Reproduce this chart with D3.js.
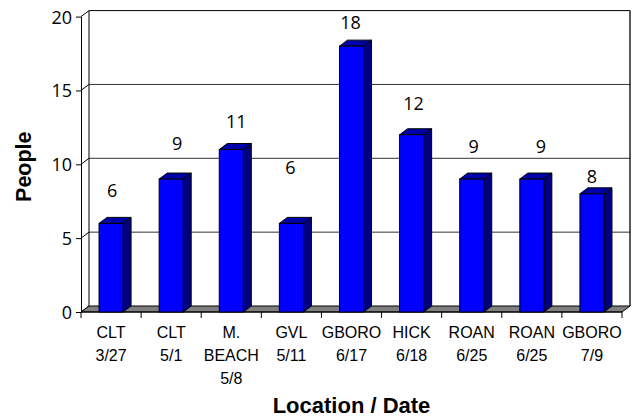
<!DOCTYPE html>
<html>
<head>
<meta charset="utf-8">
<script src="https://cdn.jsdelivr.net/npm/d3@7"></script>
<style>
  html, body { margin: 0; padding: 0; background: #fff; }
  svg { display: block; }
</style>
</head>
<body>
<svg id="chart" width="634" height="420"></svg>
<script>
// Attendance per event
const locations = ["CLT", "CLT", "M. BEACH", "GVL", "GBORO", "HICK", "ROAN", "ROAN", "GBORO"];
const dates = ["3/27", "5/1", "5/8", "5/11", "6/17", "6/18", "6/25", "6/25", "7/9"];
const people = [6, 9, 11, 6, 18, 12, 9, 9, 8];
const yTicks = [0, 5, 10, 15, 20];

// Hand-placed value labels: horizontal shift and lift above each bar top (px)
const labelShift = [1, 6, 5, -1, -1, 2, 2, 9, 0];
const labelLift = [26, 29, 21.5, 49, 17.5, 25, 26, 26, 10.5];

const svg = d3.select("#chart");
const DX = 8, DY = -6;           // depth of the 3-D wall / floor
const left = 81, right = 622, base = 312;

const x = d3.scaleBand().domain(d3.range(people.length)).range([left, right]).padding(0);
const y = d3.scaleLinear().domain([0, 20]).range([base, 16.6]);

const bw = x.bandwidth();
const numFont = "'Open Sans', 'Noto Sans', sans-serif";
const catFont = "'Liberation Sans', Arial, sans-serif";

// Back wall
const wall = svg.append("g");
wall.append("rect")
  .attr("x", left + DX).attr("y", y(20) + DY)
  .attr("width", right - left).attr("height", y(0) - y(20))
  .attr("fill", "#fff").attr("stroke", "none");

// Gridlines on the back wall with diagonal joins on the side wall
yTicks.forEach(t => {
  if (t > 0) {
    wall.append("line")
      .attr("x1", left + DX).attr("x2", right + DX)
      .attr("y1", y(t) + DY).attr("y2", y(t) + DY)
      .attr("stroke", t === 20 ? "#000" : "#333").attr("stroke-width", 1);
  }
  wall.append("line")
    .attr("x1", left).attr("y1", y(t))
    .attr("x2", left + DX).attr("y2", y(t) + DY)
    .attr("stroke", "#000").attr("stroke-width", 1);
});
// Wall edges
wall.append("line")
  .attr("x1", left + DX).attr("x2", left + DX)
  .attr("y1", y(20) + DY).attr("y2", y(0) + DY)
  .attr("stroke", "#000");
wall.append("line")
  .attr("x1", right + DX).attr("x2", right + DX)
  .attr("y1", y(20) + DY).attr("y2", y(0) + DY)
  .attr("stroke", "#000").attr("stroke-width", 1.3);

// Floor
svg.append("polygon")
  .attr("points", [
    [left, base], [right, base], [right + DX, base + DY], [left + DX, base + DY]
  ].map(p => p.join(",")).join(" "))
  .attr("fill", "#808080").attr("stroke", "#000").attr("stroke-width", 1);

// Y axis on the front edge
const yAxis = d3.axisLeft(y).tickValues(yTicks).tickSize(5).tickSizeOuter(0).tickPadding(4);
const gy = svg.append("g").attr("transform", `translate(${left},0)`).call(yAxis);
gy.select(".domain").attr("stroke", "#000");
gy.selectAll(".tick line").attr("stroke", "#000");
gy.selectAll(".tick text")
  .attr("font-family", numFont).attr("font-size", 18).attr("fill", "#000")
  .attr("dy", "0.36em");

// X axis: front edge with ticks at band boundaries
svg.append("line")
  .attr("x1", left).attr("x2", right).attr("y1", base).attr("y2", base)
  .attr("stroke", "#000");
d3.range(people.length + 1).forEach(i => {
  const xx = left + i * bw;
  svg.append("line")
    .attr("x1", xx).attr("x2", xx).attr("y1", base).attr("y2", base + 6)
    .attr("stroke", "#000");
});

// Bars as 3-D boxes
const bars = svg.append("g").selectAll("g").data(people).join("g");
bars.each(function (v, i) {
  const g = d3.select(this);
  const x0 = x(i) + bw * 0.3, w = bw * 0.4;
  const yt = y(v), yb = y(0);
  // side face
  g.append("polygon")
    .attr("points", [[x0 + w, yb], [x0 + w + DX, yb + DY], [x0 + w + DX, yt + DY], [x0 + w, yt]]
      .map(p => p.join(",")).join(" "))
    .attr("fill", "#000080").attr("stroke", "#000").attr("stroke-width", 1);
  // top face
  g.append("polygon")
    .attr("points", [[x0, yt], [x0 + DX, yt + DY], [x0 + w + DX, yt + DY], [x0 + w, yt]]
      .map(p => p.join(",")).join(" "))
    .attr("fill", "#0000a8").attr("stroke", "#000").attr("stroke-width", 1);
  // front face
  g.append("rect")
    .attr("x", x0).attr("y", yt).attr("width", w).attr("height", yb - yt)
    .attr("fill", "#0000ff").attr("stroke", "#000").attr("stroke-width", 1);
});

// Value labels
svg.append("g").selectAll("text").data(people).join("text")
  .attr("x", (v, i) => x(i) + bw / 2 + labelShift[i])
  .attr("y", (v, i) => y(v) - labelLift[i])
  .attr("text-anchor", "middle")
  .attr("font-family", numFont).attr("font-size", 18).attr("fill", "#000")
  .text(v => v);

// Category labels (location, then date)
const cats = svg.append("g");
locations.forEach((loc, i) => {
  const lines = loc.split(" ").concat([dates[i]]);
  const t = cats.append("text")
    .attr("text-anchor", "middle")
    .attr("font-family", catFont).attr("font-size", 16).attr("fill", "#000");
  lines.forEach((s, k) => {
    t.append("tspan")
      .attr("x", x(i) + bw / 2)
      .attr("y", 337.5 + k * 23)
      .text(s);
  });
});

// Axis titles
svg.append("text")
  .attr("x", (left + right) / 2).attr("y", 413)
  .attr("text-anchor", "middle")
  .attr("font-family", catFont).attr("font-size", 22).attr("font-weight", "bold")
  .text("Location / Date");

svg.append("text")
  .attr("transform", "translate(31,166.7) rotate(-90)")
  .attr("text-anchor", "middle")
  .attr("font-family", catFont).attr("font-size", 21.5).attr("font-weight", "bold")
  .text("People");
</script>
</body>
</html>
